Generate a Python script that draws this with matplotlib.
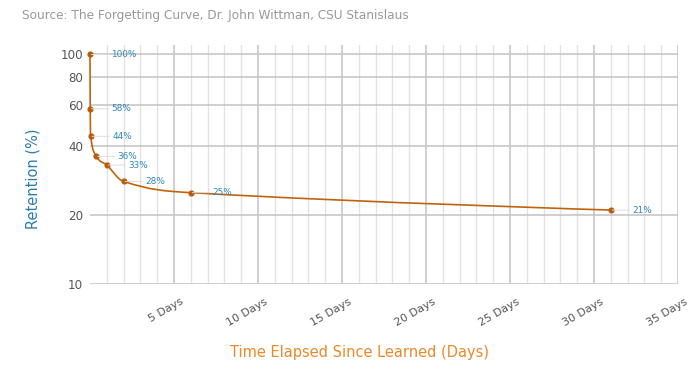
import numpy as np
import matplotlib
matplotlib.use("Agg")
import matplotlib.pyplot as plt
from matplotlib.path import Path
from matplotlib.patches import PathPatch
from matplotlib.ticker import FixedLocator, NullLocator, FixedFormatter
from matplotlib.transforms import ScaledTranslation

# ---- data ----
days = [0, 0.014, 0.042, 0.375, 1, 2, 6, 31]
retention = [100, 58, 44, 36, 33, 28, 25, 21]
point_labels = ["100%", "58%", "44%", "36%", "33%", "28%", "25%", "21%"]
x_ticks = [5, 10, 15, 20, 25, 30, 35]
x_tick_labels = ["5 Days", "10 Days", "15 Days", "20 Days", "25 Days", "30 Days", "35 Days"]
y_ticks = [10, 20, 40, 60, 80, 100]
y_tick_labels = ["10", "20", "40", "60", "80", "100"]
source_text = "Source: The Forgetting Curve, Dr. John Wittman, CSU Stanislaus"
x_title = "Time Elapsed Since Learned (Days)"
y_title = "Retention (%)"

LINE = "#c0640c"
LABEL = "#2f87b9"

fig = plt.figure(figsize=(7, 3.78), dpi=100)
W, H = 700, 378
ax = fig.add_axes([90 / W, 1 - 284 / H, (678 - 90) / W, (284 - 45) / H])
ax.set_yscale("log")
ax.set_xlim(0, 35)
ax.set_ylim(10, 110)

for s in ax.spines.values():
    s.set_visible(False)

ax.xaxis.set_major_locator(FixedLocator(x_ticks))
ax.xaxis.set_major_formatter(FixedFormatter(x_tick_labels))
ax.xaxis.set_minor_locator(FixedLocator([d for d in range(1, 35) if d % 5 != 0]))
ax.yaxis.set_major_locator(FixedLocator(y_ticks))
ax.yaxis.set_major_formatter(FixedFormatter(y_tick_labels))
ax.yaxis.set_minor_locator(NullLocator())

ax.grid(True, which="major", axis="both", color="#c2c2c2", lw=1.1, zorder=0)
ax.grid(True, which="minor", axis="x", color="#e2e2e2", lw=1.0, zorder=0)
ax.set_axisbelow(True)

ax.tick_params(axis="both", which="both", length=0)
ax.tick_params(axis="y", labelsize=8.6, labelcolor="#555555", pad=5)
ax.tick_params(axis="x", labelsize=8, labelcolor="#555555", pad=9)
off = ScaledTranslation(11 / 100, 0, fig.dpi_scale_trans)
for lab in ax.get_xticklabels():
    lab.set_rotation(30)
    lab.set_ha("right")
    lab.set_transform(lab.get_transform() + off)

# ---- smooth spline (Highcharts style) in display space ----
pts = ax.transData.transform(np.column_stack([days, retention]))
n = len(pts)
lc = [None] * n
rc = [None] * n
sm = 1.5
den = sm + 1
for i in range(1, n - 1):
    x, y = pts[i]
    lx, ly = pts[i - 1]
    nx, ny = pts[i + 1]
    lcx = (sm * x + lx) / den
    lcy = (sm * y + ly) / den
    rcx = (sm * x + nx) / den
    rcy = (sm * y + ny) / den
    corr = 0
    if rcx != lcx:
        corr = (rcy - lcy) * (rcx - x) / (rcx - lcx) + y - rcy
    lcy += corr
    rcy += corr
    if lcy > ly and lcy > y:
        lcy = max(ly, y); rcy = 2 * y - lcy
    elif lcy < ly and lcy < y:
        lcy = min(ly, y); rcy = 2 * y - lcy
    if rcy > ny and rcy > y:
        rcy = max(ny, y); lcy = 2 * y - rcy
    elif rcy < ny and rcy < y:
        rcy = min(ny, y); lcy = 2 * y - rcy
    lc[i] = (lcx, lcy)
    rc[i] = (rcx, rcy)

verts = [tuple(pts[0])]
codes = [Path.MOVETO]
for i in range(1, n):
    c1 = rc[i - 1] if rc[i - 1] is not None else tuple(pts[i - 1])
    c2 = lc[i] if lc[i] is not None else tuple(pts[i])
    verts += [c1, c2, tuple(pts[i])]
    codes += [Path.CURVE4] * 3
verts_data = ax.transData.inverted().transform(np.array(verts))
patch = PathPatch(Path(verts_data, codes), fill=False, edgecolor=LINE, lw=1.2,
                  transform=ax.transData, zorder=3, clip_on=False)
ax.add_patch(patch)
ax.plot(days, retention, ls="none", marker="o", ms=3.4, color="#b85a08", zorder=4, clip_on=False)

# ---- data labels with leader lines ----
for d, r, t in zip(days, retention, point_labels):
    ax.annotate(t, xy=(d, r), xytext=(15.5, 0), textcoords="offset points",
                ha="left", va="center", fontsize=6.4, color=LABEL, zorder=5,
                arrowprops=dict(arrowstyle="-", color="#dddddd", lw=0.7,
                                shrinkA=0, shrinkB=1))

fig.text(22 / W, 1 - 15 / H, source_text, fontsize=8.7, color="#999999",
         ha="left", va="center")
fig.text(33 / W, 1 - 179 / H, y_title, rotation=90, fontsize=10.5, color="#2a7fae",
         ha="center", va="center")
fig.text(359 / W, 1 - 352 / H, x_title, fontsize=10.5, color="#e8892a",
         ha="center", va="center")

fig.savefig("out.png", dpi=100)
